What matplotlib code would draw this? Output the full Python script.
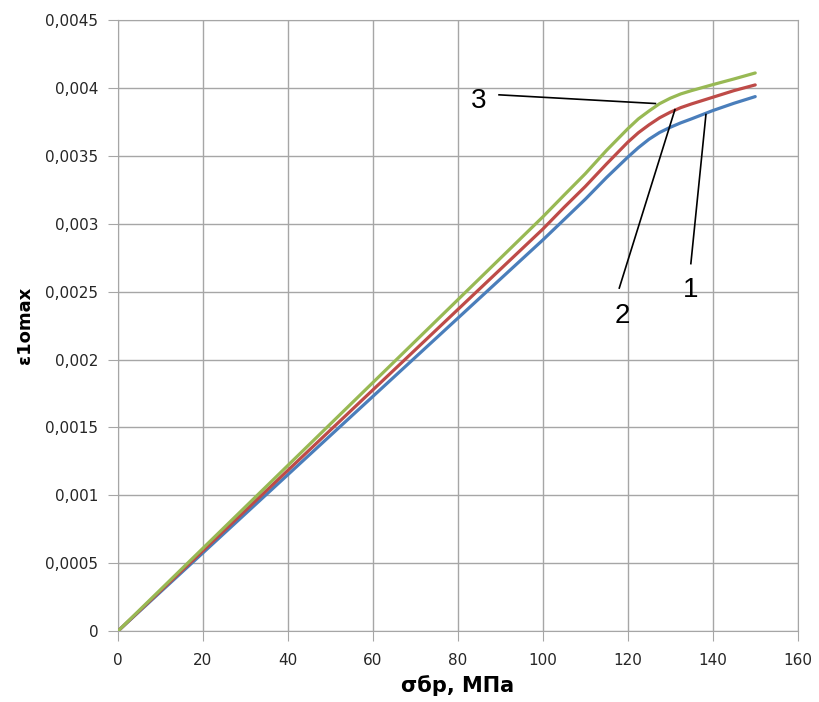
import matplotlib.pyplot as plt
from matplotlib.ticker import FuncFormatter, MultipleLocator

# sigma_br, MPa
sigma = [0, 10, 20, 30, 40, 50, 60, 70, 80, 90, 100, 105, 110, 115, 120, 122.5, 125, 127.5, 130,
         132.5, 135, 140, 145, 150]

# eps1omax for the three curves
eps_1 = [0, 0.000288, 0.000576, 0.000864, 0.001152, 0.00144, 0.001728, 0.002016, 0.002304, 0.002592,
         0.00288, 0.00303, 0.00318, 0.00334, 0.00349, 0.00356, 0.003622, 0.003672, 0.00371,
         0.003743, 0.003772, 0.003833, 0.003887, 0.003936]
eps_2 = [0, 0.000296, 0.000592, 0.000888, 0.001184, 0.00148, 0.001776, 0.002072, 0.002368, 0.002664,
         0.00296, 0.00312, 0.003274, 0.00344, 0.0036, 0.00367, 0.003728, 0.00378, 0.003821,
         0.003855, 0.003882, 0.003931, 0.00398, 0.004022]
eps_3 = [0, 0.000305, 0.00061, 0.000915, 0.00122, 0.001525, 0.00183, 0.002135, 0.00244, 0.002745,
         0.00305, 0.00321, 0.003368, 0.00354, 0.003699, 0.003772, 0.00383, 0.003884, 0.003924,
         0.003956, 0.00398, 0.004024, 0.004066, 0.00411]

colors = ['#4A7EBB', '#BE4B48', '#98B954']

fig = plt.figure(figsize=(8.19, 7.02), dpi=100)
ax = fig.add_axes([0.144, 0.101, 0.830, 0.8705])

for eps, c in zip([eps_1, eps_2, eps_3], colors):
    ax.plot(sigma, eps, color=c, lw=2.3, solid_capstyle='round', solid_joinstyle='round', zorder=3)

ax.set_xlim(0, 160)
ax.set_ylim(0, 0.0045)
ax.xaxis.set_major_locator(MultipleLocator(20))
ax.yaxis.set_major_locator(MultipleLocator(0.0005))
ax.yaxis.set_major_formatter(FuncFormatter(lambda v, p: f'{v:g}'.replace('.', ',')))
ax.grid(True, color='#A6A6A6', lw=1)
ax.set_axisbelow(True)
for s in ax.spines.values():
    s.set_color('#A6A6A6')
ax.tick_params(colors='#A6A6A6', labelcolor='#262626', labelsize=11, length=7, direction='out')
ax.tick_params(axis='y', pad=7)
ax.tick_params(axis='x', pad=9)

ax.set_xlabel('σбр, МПа', fontsize=15, fontweight='bold', labelpad=5)
ax.set_ylabel('ε1omax', fontsize=13, fontweight='bold', labelpad=8)

# curve numbers and leader lines
lbl = dict(fontsize=20, family='Liberation Sans', ha='center', va='center')
ax.text(85, 0.003906, '3', **lbl)
ax.text(118.7, 0.00232, '2', **lbl)
ax.text(134.9, 0.00251, '1', **lbl)
ax.plot([89.7, 126.5], [0.003949, 0.003885], color='black', lw=1.2, zorder=4)
ax.plot([118.0, 131.1], [0.002526, 0.00384], color='black', lw=1.2, zorder=4)
ax.plot([134.85, 138.4], [0.002706, 0.003804], color='black', lw=1.2, zorder=4)

fig.savefig('out.png', dpi=100)
